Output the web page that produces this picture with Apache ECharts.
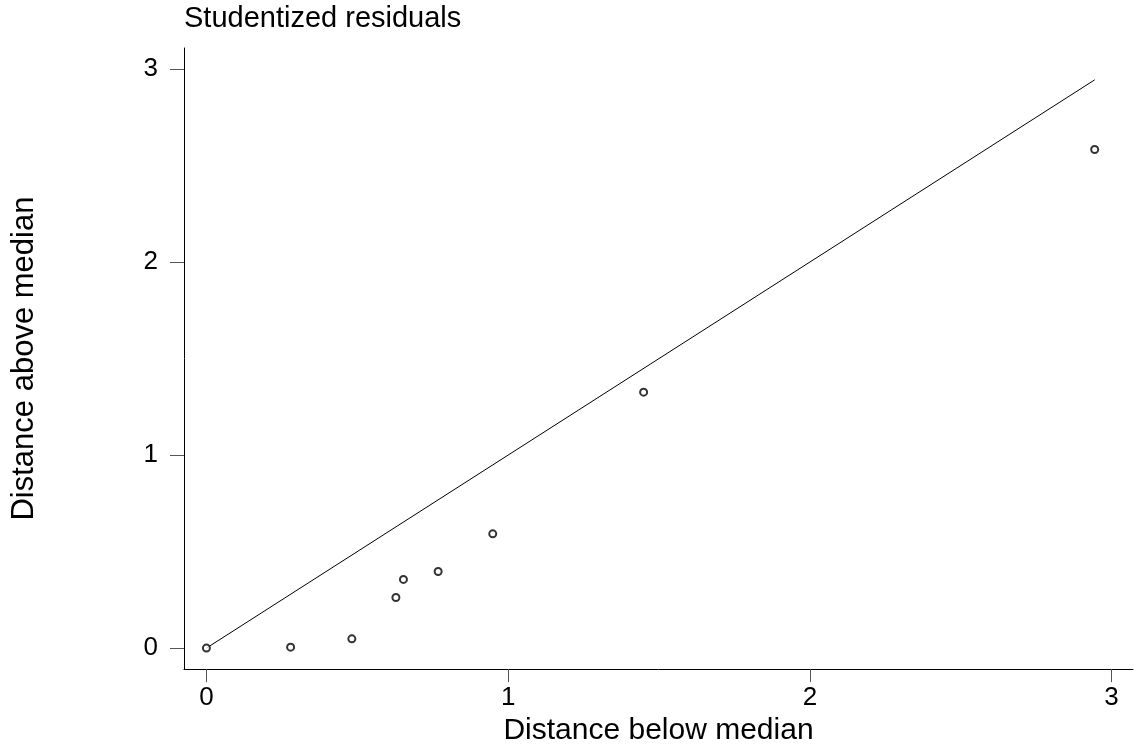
<!DOCTYPE html>
<html>
<head>
<meta charset="utf-8">
<title>Symmetry plot</title>
<script src="https://cdn.jsdelivr.net/npm/echarts@6/dist/echarts.min.js"></script>
<style>
  html, body { margin: 0; padding: 0; background: #ffffff; }
  #chart { width: 1142px; height: 751px; }
</style>
</head>
<body>
<div id="chart"></div>
<script>
// Symmetry plot of studentized residuals: distance of each ordered value
// below the median against its mirror value above the median.
const distBelow = [0, 0.279, 0.482, 0.628, 0.653, 0.768, 0.949, 1.449, 2.944];
const distAbove = [0, 0.005, 0.048, 0.262, 0.356, 0.397, 0.592, 1.326, 2.583];
const xTicks = [0, 1, 2, 3];
const yTicks = [0, 1, 2, 3];

const FONT = '"Liberation Sans", Arial, Helvetica, sans-serif';

const points = distBelow.map((d, i) => [d, distAbove[i]]);
// reference line y = x across the range of the data
const lineEnd = Math.max(...distBelow, ...distAbove);
const refLine = [[0, 0], [lineEnd, lineEnd]];

const chart = echarts.init(document.getElementById('chart'), null, { renderer: 'canvas' });

chart.setOption({
  animation: false,
  backgroundColor: '#ffffff',
  title: {
    text: 'Studentized residuals',
    left: 184,
    top: 4,
    padding: 0,
    textStyle: { fontFamily: FONT, fontSize: 29, fontWeight: 'normal', color: '#000' }
  },
  grid: { left: 184, right: 9, top: 48, bottom: 73 },
  xAxis: {
    type: 'value',
    min: -0.0743,
    max: 3.071,
    name: 'Distance below median',
    nameLocation: 'middle',
    nameGap: 38,
    nameTextStyle: { fontFamily: FONT, fontSize: 30, color: '#000' },
    axisLine: { show: true, onZero: false, lineStyle: { color: '#000', width: 1 } },
    axisTick: { show: true, length: 13, customValues: xTicks, lineStyle: { color: '#555', width: 1 } },
    axisLabel: { customValues: xTicks, margin: 16, fontFamily: FONT, fontSize: 26, color: '#000' },
    splitLine: { show: false }
  },
  yAxis: {
    type: 'value',
    min: -0.1087,
    max: 3.109,
    name: 'Distance above median',
    nameLocation: 'middle',
    nameGap: 144,
    nameTextStyle: { fontFamily: FONT, fontSize: 31, color: '#000' },
    axisLine: { show: true, onZero: false, lineStyle: { color: '#000', width: 1 } },
    axisTick: { show: true, length: 14, customValues: yTicks, lineStyle: { color: '#555', width: 1 } },
    axisLabel: { customValues: yTicks, margin: 26, fontFamily: FONT, fontSize: 26, color: '#000' },
    splitLine: { show: false }
  },
  series: [
    {
      type: 'line',
      data: refLine,
      symbol: 'none',
      lineStyle: { color: '#000', width: 1 },
      silent: true,
      z: 1
    },
    {
      type: 'scatter',
      data: points,
      symbol: 'emptyCircle',
      symbolSize: 7,
      itemStyle: { color: '#000', borderColor: '#000', borderWidth: 1 },
      z: 2
    }
  ]
});
</script>
</body>
</html>
